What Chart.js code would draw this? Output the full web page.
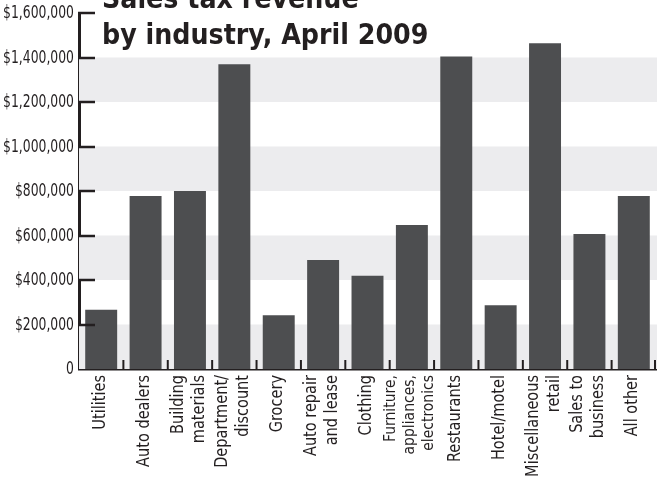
<!DOCTYPE html>
<html>
<head>
<meta charset="utf-8">
<script src="https://cdn.jsdelivr.net/npm/chart.js@4.4.0/dist/chart.umd.min.js"></script>
<style>
  html, body { margin: 0; padding: 0; background: #fff; }
  #wrap { width: 657px; height: 480px; position: relative; }
</style>
</head>
<body>
<div id="wrap"><canvas id="chart"></canvas></div>
<script>
// data
const categories = [
    'Utilities',
    'Auto dealers',
    ['Building', 'materials'],
    ['Department/', 'discount'],
    'Grocery',
    ['Auto repair', 'and lease'],
    'Clothing',
    ['Furniture,', 'appliances,', 'electronics'],
    'Restaurants',
    'Hotel/motel',
    ['Miscellaneous', 'retail'],
    ['Sales to', 'business'],
    'All other'
];
const revenue = [266000, 777000, 800000, 1370000, 242000, 490000, 419000,
                 647000, 1405000, 287000, 1464000, 607000, 777000];
const titleLines = ['Sales tax revenue', 'by industry, April 2009'];
const yMax = 1600000;
const yStep = 200000;

const INK = '#231f20';
const BAR = '#4d4e50';
const BAND = '#ececee';
const FONT = '"DejaVu Sans Condensed", "DejaVu Sans", sans-serif';

function money(v) {
    if (v === 0) return '0';
    return '$' + v.toLocaleString('en-US');
}

// text squeezed along its own direction (the original uses a narrow face)
function squeezed(ctx, text, x, y, squeeze, angle) {
    ctx.save();
    ctx.translate(x, y);
    if (angle) ctx.rotate(angle);
    ctx.scale(squeeze, 1);
    ctx.fillText(text, 0, 0);
    ctx.restore();
}

// grey bands on every other interval, inner ticks, labels, title
const decor = {
    id: 'decor',
    beforeDatasetsDraw: function(chart) {
        const ctx = chart.ctx;
        const y = chart.scales.y;
        const area = chart.chartArea;
        ctx.save();
        ctx.fillStyle = BAND;
        for (let v = 0; v < yMax; v += yStep * 2) {
            const top = y.getPixelForValue(v + yStep);
            const bottom = y.getPixelForValue(v);
            ctx.fillRect(area.left, top, chart.width - area.left, bottom - top);
        }
        ctx.restore();
    },
    afterDraw: function(chart) {
        const ctx = chart.ctx;
        const x = chart.scales.x;
        const y = chart.scales.y;
        const area = chart.chartArea;
        ctx.save();
        ctx.strokeStyle = INK;
        ctx.fillStyle = INK;

        // y ticks pointing into the plot, with their labels
        ctx.lineWidth = 2.5;
        ctx.font = '17px ' + FONT;
        ctx.textAlign = 'right';
        ctx.textBaseline = 'middle';
        for (let v = 0; v <= yMax; v += yStep) {
            const py = Math.round(y.getPixelForValue(v));
            if (v > 0) {
                ctx.beginPath();
                ctx.moveTo(area.left - 1, py);
                ctx.lineTo(area.left + 16, py);
                ctx.stroke();
            }
            squeezed(ctx, money(v), area.left - 5, py + 0.5, 0.81);
        }

        // category boundary ticks on the base line
        ctx.lineWidth = 2;
        for (let i = 1; i <= categories.length; i++) {
            const px = (x.getPixelForValue(i - 1) + x.getPixelForValue(i)) / 2;
            const bx = i === categories.length ? area.right - 1 : px;
            ctx.beginPath();
            ctx.moveTo(bx, area.bottom);
            ctx.lineTo(bx, area.bottom - 9);
            ctx.stroke();
        }

        // vertical category labels, lines centred on the bar
        ctx.textAlign = 'right';
        ctx.textBaseline = 'middle';
        categories.forEach(function(label, i) {
            const lines = Array.isArray(label) ? label : [label];
            const small = lines.length > 2;
            const lh = small ? 19 : 21;
            ctx.font = (small ? '16px ' : '17px ') + FONT;
            const cx = x.getPixelForValue(i) - (small ? 2 : 1);
            lines.forEach(function(line, j) {
                squeezed(ctx, line, cx + (j - (lines.length - 1) / 2) * lh,
                         area.bottom + 6, small ? 0.97 : 0.95, -Math.PI / 2);
            });
        });

        // title
        ctx.font = 'bold 28.5px ' + FONT;
        ctx.textAlign = 'left';
        ctx.textBaseline = 'alphabetic';
        squeezed(ctx, titleLines[0], 102, 8, 0.99);
        squeezed(ctx, titleLines[1], 102, 44, 0.99);
        ctx.restore();
    }
};

const ctx = document.getElementById('chart').getContext('2d');
new Chart(ctx, {
    type: 'bar',
    data: {
        labels: categories,
        datasets: [{
            data: revenue,
            backgroundColor: BAR,
            borderWidth: 0,
            barPercentage: 0.72,
            categoryPercentage: 1
        }]
    },
    options: {
        responsive: true,
        maintainAspectRatio: false,
        animation: false,
        events: [],
        layout: { padding: { top: 13, right: 1, left: 0, bottom: 0 } },
        plugins: {
            legend: { display: false },
            title: { display: false },
            tooltip: { enabled: false }
        },
        scales: {
            x: {
                grid: { display: false, drawTicks: false },
                border: { display: true, color: INK, width: 2.5 },
                afterFit: function(scale) { scale.height = 111; },
                ticks: { display: false }
            },
            y: {
                min: 0,
                max: yMax,
                grid: { display: false, drawTicks: false },
                border: { display: true, color: INK, width: 3 },
                afterFit: function(scale) { scale.width = 79; },
                ticks: { display: false, stepSize: yStep }
            }
        }
    },
    plugins: [decor]
});
</script>
</body>
</html>
